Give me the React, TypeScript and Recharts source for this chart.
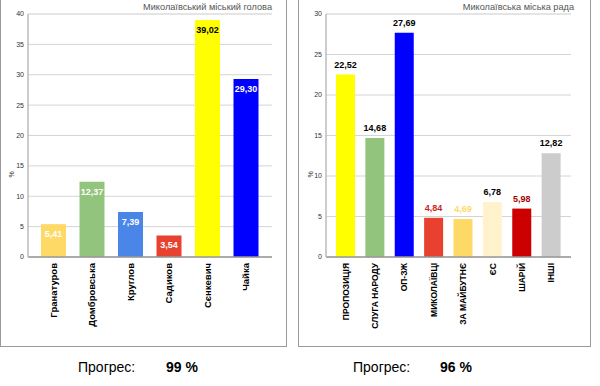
import React from 'react';
import { BarChart, Bar, XAxis, YAxis, CartesianGrid, Cell, LabelList } from 'recharts';

const mayorNames = ['Гранатуров', 'Домбровська', 'Круглов', 'Садиков', 'Сєнкевич', 'Чайка'];
const mayorValues = [5.41, 12.37, 7.39, 3.54, 39.02, 29.3];
const mayorColors = ['#ffd966', '#93c47d', '#4a86e8', '#e8412f', '#ffff00', '#0000ff'];
const mayorLabelColors = ['#ffffff', '#ffffff', '#ffffff', '#ffffff', '#000000', '#ffffff'];
const mayorTicks = [0, 5, 10, 15, 20, 25, 30, 35, 40];
const mayorMinorTicks = [0,1,2,3,4,5,6,7,8,9,10,11,12,13,14,15,16,17,18,19,20,21,22,23,24,25,26,27,28,29,30,31,32,33,34,35,36,37,38,39,40];

const councilNames = ['ПРОПОЗИЦІЯ', 'СЛУГА НАРОДУ', 'ОП-ЗЖ', 'МИКОЛАЇВЦІ', 'ЗА МАЙБУТНЄ', 'ЄС', 'ШАРІЙ', 'ІНШІ'];
const councilValues = [22.52, 14.68, 27.69, 4.84, 4.69, 6.78, 5.98, 12.82];
const councilColors = ['#ffff00', '#93c47d', '#0000ff', '#e8412f', '#ffd966', '#fff2cc', '#cc0000', '#cccccc'];
const councilLabelColors = ['#000000', '#000000', '#000000', '#cc1f1f', '#ffd966', '#000000', '#a50000', '#000000'];
const councilTicks = [0, 5, 10, 15, 20, 25, 30];
const councilMinorTicks = [0,1,2,3,4,5,6,7,8,9,10,11,12,13,14,15,16,17,18,19,20,21,22,23,24,25,26,27,28,29,30];

const mayorData = mayorNames.map((name, i) => ({ name, value: mayorValues[i] }));
const councilData = councilNames.map((name, i) => ({ name, value: councilValues[i] }));

const FONT = 'Liberation Sans, Arial, sans-serif';

const fmt = (v: number) => v.toFixed(2).replace('.', ',');

const makeXTick = (fontSize: number) => (props: any) => {
  const { x, y, payload } = props;
  return (
    <text
      x={x}
      y={y}
      transform={`rotate(-90, ${x}, ${y})`}
      textAnchor="end"
      dominantBaseline="central"
      fontSize={fontSize}
      fontWeight="bold"
      fontFamily={FONT}
      fill="#000"
    >
      {payload.value}
    </text>
  );
};

const makeLabel = (colors: string[], inside: boolean) => (props: any) => {
  const { x, y, width, value, index } = props;
  const cy = inside ? y + 10 : y - 10;
  return (
    <text
      x={x + width / 2}
      y={cy}
      textAnchor="middle"
      dominantBaseline="central"
      fontSize={9}
      fontWeight="bold"
      fontFamily={FONT}
      fill={colors[index]}
    >
      {fmt(value)}
    </text>
  );
};

const tickStyle = { fontSize: 7, fill: '#333', fontFamily: FONT };

const panelStyle = (left: number, width: number): React.CSSProperties => ({
  position: 'absolute',
  left,
  top: -4,
  width,
  height: 351,
  border: '1.5px solid #9a9a9a',
  boxSizing: 'border-box',
});

const titleStyle = (right: number): React.CSSProperties => ({
  position: 'absolute',
  top: 2,
  right,
  fontSize: 9.2,
  color: '#555',
  fontFamily: FONT,
  whiteSpace: 'nowrap',
});

const progStyle = (left: number, bold: boolean): React.CSSProperties => ({
  position: 'absolute',
  left,
  top: 359,
  fontSize: 14,
  lineHeight: '16px',
  fontWeight: bold ? 'bold' : 'normal',
  color: '#000',
  fontFamily: FONT,
  whiteSpace: 'nowrap',
});

export default function App() {
  return (
    <div style={{ position: 'absolute', left: 0, top: 0, width: 600, height: 386, background: '#fff', overflow: 'hidden' }}>
      <div style={panelStyle(0, 287)} />
      <div style={panelStyle(298, 293)} />

      <div style={{ position: 'absolute', left: 0, top: 0 }}>
        <BarChart width={287} height={347} data={mayorData} margin={{ top: 14, right: 15, bottom: 0, left: 0 }}>
          <YAxis yAxisId="minor" hide domain={[0, 40]} ticks={mayorMinorTicks} />
          <CartesianGrid yAxisId="minor" vertical={false} stroke="#ebebeb" strokeWidth={1} />
          <CartesianGrid vertical={false} stroke="#d4d4d4" strokeWidth={1} />
          <XAxis
            dataKey="name"
            interval={0}
            height={90}
            padding={{ left: 6, right: 7 }}
            axisLine={{ stroke: '#999', strokeWidth: 1.5 }}
            tickLine={false}
            tickSize={0}
            tickMargin={6}
            tick={makeXTick(9.5)}
          />
          <YAxis
            domain={[0, 40]}
            ticks={mayorTicks}
            width={28}
            axisLine={{ stroke: '#bbb', strokeWidth: 1.5 }}
            tickLine={false}
            tickSize={2}
            tickMargin={2}
            tick={tickStyle}
            label={{ value: '%', angle: -90, position: 'insideLeft', dx: 7, dy: 42, style: { fontSize: 7, fill: '#333', fontFamily: FONT } }}
          />
          <Bar dataKey="value" barSize={25} isAnimationActive={false}>
            {mayorData.map((d, i) => (
              <Cell key={d.name} fill={mayorColors[i]} />
            ))}
            <LabelList dataKey="value" content={makeLabel(mayorLabelColors, true)} />
          </Bar>
        </BarChart>
      </div>

      <div style={{ position: 'absolute', left: 299, top: 0 }}>
        <BarChart width={291} height={347} data={councilData} margin={{ top: 14, right: 19, bottom: 0, left: 0 }}>
          <YAxis yAxisId="minor" hide domain={[0, 30]} ticks={councilMinorTicks} />
          <CartesianGrid yAxisId="minor" vertical={false} stroke="#ebebeb" strokeWidth={1} />
          <CartesianGrid vertical={false} stroke="#d4d4d4" strokeWidth={1} />
          <XAxis
            dataKey="name"
            interval={0}
            height={90}
            padding={{ left: 5, right: 5 }}
            axisLine={{ stroke: '#999', strokeWidth: 1.5 }}
            tickLine={false}
            tickSize={0}
            tickMargin={6}
            tick={makeXTick(8.5)}
          />
          <YAxis
            domain={[0, 30]}
            ticks={councilTicks}
            width={27}
            axisLine={{ stroke: '#bbb', strokeWidth: 1.5 }}
            tickLine={false}
            tickSize={2}
            tickMargin={2}
            tick={tickStyle}
            label={{ value: '%', angle: -90, position: 'insideLeft', dx: 7, dy: 42, style: { fontSize: 7, fill: '#333', fontFamily: FONT } }}
          />
          <Bar dataKey="value" barSize={19} isAnimationActive={false}>
            {councilData.map((d, i) => (
              <Cell key={d.name} fill={councilColors[i]} />
            ))}
            <LabelList dataKey="value" content={makeLabel(councilLabelColors, false)} />
          </Bar>
        </BarChart>
      </div>

      <div style={titleStyle(600 - 272)}>Миколаївський міський голова</div>
      <div style={titleStyle(600 - 574)}>Миколаївська міська рада</div>

      <div style={progStyle(78, false)}>Прогрес:</div>
      <div style={progStyle(166, true)}>99 %</div>
      <div style={progStyle(353, false)}>Прогрес:</div>
      <div style={progStyle(440, true)}>96 %</div>
    </div>
  );
}
